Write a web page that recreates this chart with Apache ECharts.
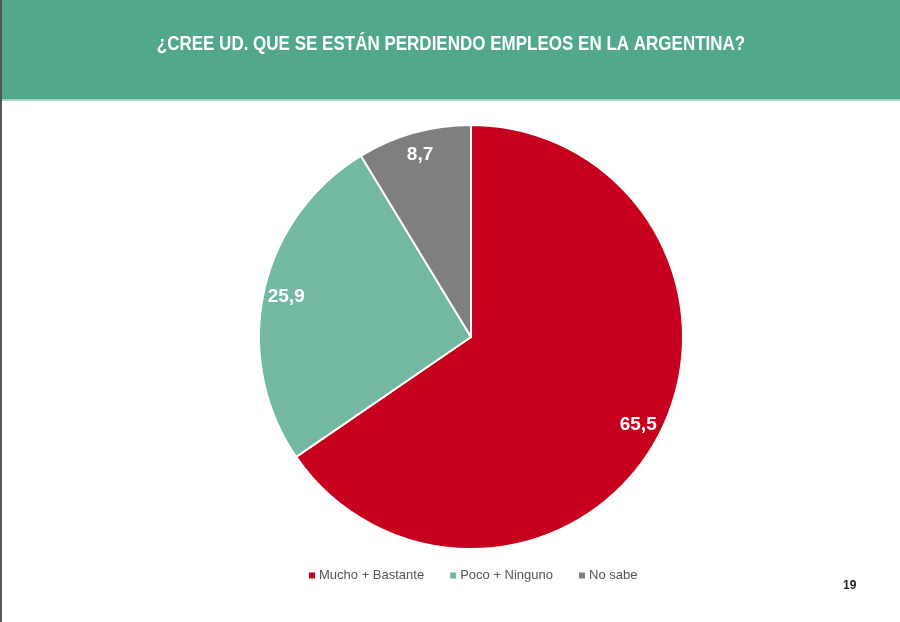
<!DOCTYPE html>
<html><head><meta charset="utf-8">
<script src="https://cdn.jsdelivr.net/npm/echarts@6/dist/echarts.min.js"></script>
<style>html,body{margin:0;padding:0;background:#fff}#c{width:900px;height:622px}</style>
</head><body><div id="c"></div>
<script>
const titleText = '¿CREE UD. QUE SE ESTÁN PERDIENDO EMPLEOS EN LA ARGENTINA?';
const categories = ['Mucho + Bastante', 'Poco + Ninguno', 'No sabe'];
const values = [65.5, 25.9, 8.7];
const colors = ['#c7001d', '#73b9a2', '#7f7f7f'];
const pageNumber = '19';

const data = categories.map((n, i) => ({ name: n, value: values[i], itemStyle: { color: colors[i] } }));
const fmt = p => String(p.value).replace('.', ',');
const chart = echarts.init(document.getElementById('c'), null, { renderer: 'canvas' });
chart.setOption({
  animation: false,
  backgroundColor: '#ffffff',
  graphic: [
    { type: 'rect', left: 0, top: 0, shape: { width: 900, height: 99 }, style: { fill: '#52a88a' }, z: -1 },
    { type: 'rect', left: 0, top: 99, shape: { width: 900, height: 2 }, style: { fill: '#a8d6c6' }, z: -1 },
    { type: 'rect', left: 0, top: 0, shape: { width: 2, height: 622 }, style: { fill: '#555555' }, z: 10 },
    { type: 'text', x: 451, y: 44, scaleX: 0.85, originX: 0, style: { text: titleText, fill: '#ffffff', align: 'center', verticalAlign: 'middle', font: 'bold 20px "Liberation Sans"' }, z: 5 },
    { type: 'text', left: 843, top: 580, style: { text: pageNumber, fill: '#222', font: 'bold 12px "Liberation Sans"' } }
  ],
  legend: {
    bottom: 35, left: 302, itemWidth: 8, itemHeight: 8, itemGap: 24, icon: 'rect',
    textStyle: { color: '#555', fontSize: 13, fontFamily: '"Liberation Sans Narrow", "Liberation Sans", sans-serif', padding: [0, 0, 0, -2] },
    data: categories
  },
  series: [
    {
      type: 'pie', center: [471, 337], radius: [0, 212], startAngle: 90, clockwise: true,
      data: data,
      itemStyle: { borderColor: '#ffffff', borderWidth: 2 },
      label: { show: false }, labelLine: { show: false }, emphasis: { disabled: true }
    },
    {
      type: 'pie', center: [471, 337], radius: [160, 212], startAngle: 90, clockwise: true,
      data: data.map(d => ({ name: d.name, value: d.value, itemStyle: { color: 'rgba(0,0,0,0)' } })),
      silent: true, legendHoverLink: false,
      itemStyle: { borderWidth: 0 },
      label: { show: true, position: 'inside', formatter: fmt, color: '#ffffff', fontSize: 19, fontWeight: 'bold', fontFamily: '"Liberation Sans Narrow", sans-serif' },
      labelLine: { show: false }, emphasis: { disabled: true }
    }
  ]
});
</script></body></html>
